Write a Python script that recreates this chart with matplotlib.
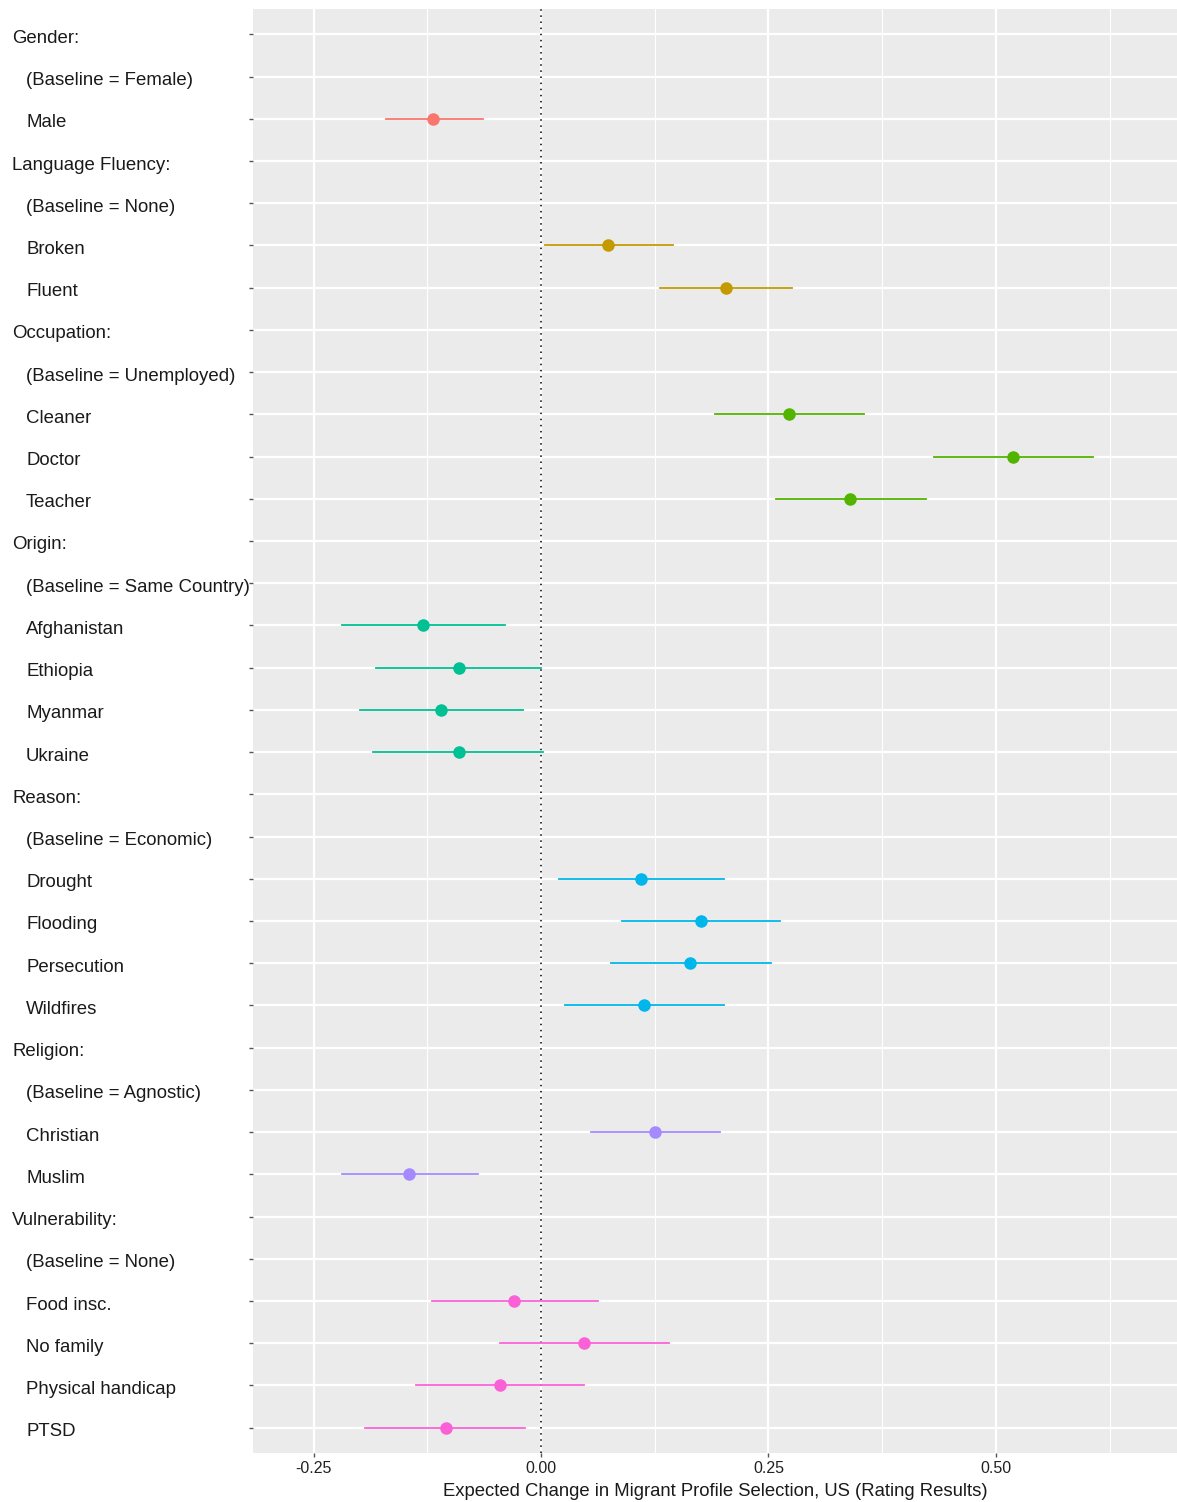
"""Coefficient plot: expected change in migrant profile selection (US rating results)"""
import matplotlib.pyplot as plt
from matplotlib.transforms import blended_transform_factory, ScaledTranslation

plt.rcParams['font.family'] = ['Liberation Sans', 'DejaVu Sans']

# row labels, top to bottom
labels = ["Gender:", "(Baseline = Female)", "Male",
          "Language Fluency:", "(Baseline = None)", "Broken", "Fluent",
          "Occupation:", "(Baseline = Unemployed)", "Cleaner", "Doctor", "Teacher",
          "Origin:", "(Baseline = Same Country)", "Afghanistan", "Ethiopia", "Myanmar", "Ukraine",
          "Reason:", "(Baseline = Economic)", "Drought", "Flooding", "Persecution", "Wildfires",
          "Religion:", "(Baseline = Agnostic)", "Christian", "Muslim",
          "Vulnerability:", "(Baseline = None)", "Food insc.", "No family",
          "Physical handicap", "PTSD"]

# estimates with confidence bounds (None = header / baseline row)
estimate = [None, None, -0.119,
            None, None, 0.074, 0.203,
            None, None, 0.273, 0.519, 0.340,
            None, None, -0.130, -0.090, -0.110, -0.090,
            None, None, 0.110, 0.176, 0.164, 0.113,
            None, None, 0.125, -0.145,
            None, None, -0.030, 0.047, -0.045, -0.104]
lower = [None, None, -0.170,
         None, None, 0.004, 0.131,
         None, None, 0.191, 0.432, 0.258,
         None, None, -0.219, -0.181, -0.199, -0.185,
         None, None, 0.020, 0.089, 0.077, 0.026,
         None, None, 0.055, -0.219,
         None, None, -0.120, -0.045, -0.137, -0.193]
upper = [None, None, -0.064,
         None, None, 0.145, 0.276,
         None, None, 0.355, 0.607, 0.423,
         None, None, -0.040, 0.000, -0.020, 0.002,
         None, None, 0.201, 0.263, 0.253, 0.201,
         None, None, 0.197, -0.069,
         None, None, 0.063, 0.141, 0.047, -0.018]
group = [0, 0, 0, 1, 1, 1, 1, 2, 2, 2, 2, 2, 3, 3, 3, 3, 3, 3,
         4, 4, 4, 4, 4, 4, 5, 5, 5, 5, 6, 6, 6, 6, 6, 6]

# ggplot default hue palette for 7 groups
colours = ["#F8766D", "#C49A00", "#53B400", "#00C094", "#00B6EB", "#A58AFF", "#FB61D7"]

fig = plt.figure(figsize=(11.77, 15.02), dpi=100)
ax = fig.add_axes([253 / 1177, 1 - 1453 / 1502, (1177 - 253) / 1177, (1453 - 9) / 1502])

n = len(labels)
ypos = [n - i for i in range(n)]

ax.set_facecolor("#EBEBEB")
for s in ax.spines.values():
    s.set_visible(False)

ax.set_xlim(-0.3165, 0.699)
ax.set_ylim(0.4, n + 0.6)

# grid
for x in [-0.125, 0.125, 0.375, 0.625]:
    ax.axvline(x, color="white", lw=0.8, zorder=0)
for x in [-0.25, 0.0, 0.25, 0.5]:
    ax.axvline(x, color="white", lw=1.6, zorder=0)
for y in ypos:
    ax.axhline(y, color="white", lw=1.6, zorder=0)

ax.axvline(0, color="black", lw=1.1, ls=(0, (1, 3)), zorder=1)

for i in range(n):
    if estimate[i] is None:
        continue
    c = colours[group[i]]
    ax.plot([lower[i], upper[i]], [ypos[i], ypos[i]], color=c, lw=1.3, zorder=2)
    ax.plot(estimate[i], ypos[i], "o", color=c, ms=8, zorder=3)

ax.set_xticks([-0.25, 0.0, 0.25, 0.5])
ax.set_xticklabels(["-0.25", "0.00", "0.25", "0.50"], fontsize=11.5, color="#222222")
ax.set_yticks(ypos)
ax.set_yticklabels([])
ax.tick_params(axis="both", length=3, width=1, color="#555555")
ax.tick_params(axis="x", pad=3)

# left-aligned row labels, headers flush left, items indented
trans = blended_transform_factory(fig.transFigure, ax.transData) + \
    ScaledTranslation(0, -2 / 100, fig.dpi_scale_trans)
for i, lab in enumerate(labels):
    xpx = 12 if lab.endswith(":") else 26
    ax.text(xpx / 1177, ypos[i], lab, transform=trans,
            ha="left", va="center_baseline", fontsize=13.4, color="#1a1a1a")

ax.set_xlabel("Expected Change in Migrant Profile Selection, US (Rating Results)",
              fontsize=13.3, color="#1a1a1a", labelpad=5)

fig.savefig("out.png", dpi=100)
